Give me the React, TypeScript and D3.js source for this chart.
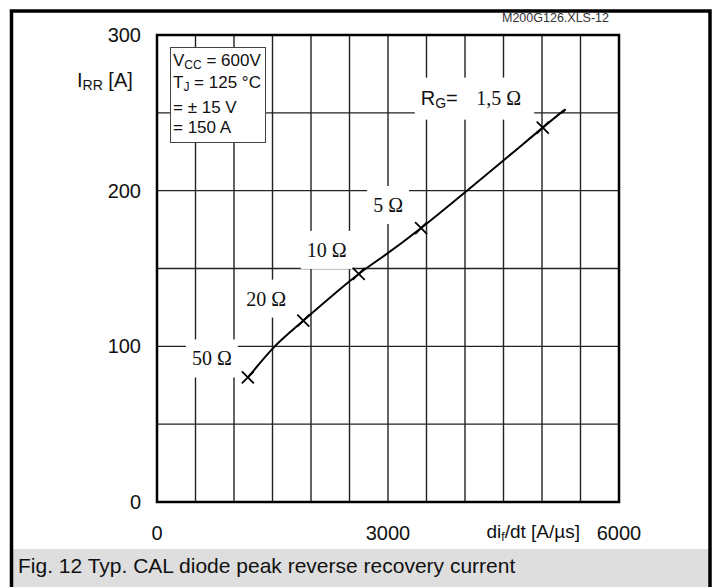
import React, { useEffect, useRef } from "react";
import * as d3 from "d3";

// ---- data ----
const rgLabels = ["50 Ω", "20 Ω", "10 Ω", "5 Ω", "1,5 Ω"];
const markerDidt = [1180, 1900, 2620, 3430, 5010];
const markerIrr = [80, 116.5, 146.5, 176, 240.5];
const curveDidt = [1180, 1520, 1900, 2620, 3430, 5010, 5260];
const curveIrr = [80, 99.5, 116.5, 146.5, 176, 240.5, 250];
const xTicks = [0, 3000, 6000];
const yTicks = [0, 100, 200, 300];
const legendLines = [
  ["V", "CC", " = 600V"],
  ["T", "J", " = 125 °C"],
  ["", "", "= ± 15 V"],
  ["", "", "= 150 A"],
];

// ---- layout (not data) ----
const W = 715, H = 587;
const PL = 157, PR = 619, PT = 35, PB = 502;
const labelOffsets = [
  [-36, -12],
  [-37, -15],
  [-32, -17],
  [-33, -16],
  [-44, -23],
];
const SANS = "'Liberation Sans', Arial, sans-serif";
const SERIF = "'Liberation Serif', 'Times New Roman', serif";

export default function App() {
  const ref = useRef<SVGSVGElement>(null);
  useEffect(() => {
    const svg = d3.select(ref.current);
    svg.selectAll("*").remove();
    const x = d3.scaleLinear().domain([0, 6000]).range([PL, PR]);
    const y = d3.scaleLinear().domain([0, 300]).range([PB, PT]);

    svg.append("rect").attr("width", W).attr("height", H).attr("fill", "#fff");
    // caption band
    svg.append("rect").attr("x", 13).attr("y", 549).attr("width", 696).attr("height", 60).attr("fill", "#dedede");
    // outer frame
    svg.append("rect").attr("x", 11.5).attr("y", 11).attr("width", 698.5).attr("height", 620)
      .attr("fill", "none").attr("stroke", "#000").attr("stroke-width", 3.5);

    svg.append("text").attr("x", 18).attr("y", 573).attr("font-family", SANS).attr("font-size", 21)
      .attr("fill", "#111").text("Fig. 12 Typ. CAL diode peak reverse recovery current");

    svg.append("text").attr("x", 502).attr("y", 22).attr("font-family", SANS).attr("font-size", 12.5)
      .attr("fill", "#333").text("M200G126.XLS-12");

    // grid
    const g = svg.append("g");
    d3.range(500, 6000, 500).forEach((v) => {
      g.append("line").attr("x1", x(v)).attr("x2", x(v)).attr("y1", PT).attr("y2", PB)
        .attr("stroke", "#222").attr("stroke-width", 1.4);
    });
    d3.range(50, 300, 50).forEach((v) => {
      g.append("line").attr("x1", PL).attr("x2", PR).attr("y1", y(v)).attr("y2", y(v))
        .attr("stroke", "#222").attr("stroke-width", 1.4);
    });
    svg.append("rect").attr("x", PL).attr("y", PT).attr("width", PR - PL).attr("height", PB - PT)
      .attr("fill", "none").attr("stroke", "#000").attr("stroke-width", 2.5);

    // ticks
    yTicks.forEach((v) => {
      svg.append("text").attr("x", 141).attr("y", y(v)).attr("dy", "0.35em").attr("text-anchor", "end")
        .attr("font-family", SANS).attr("font-size", 20).attr("fill", "#111").text(String(v));
    });
    xTicks.forEach((v) => {
      svg.append("text").attr("x", x(v)).attr("y", 540).attr("text-anchor", "middle")
        .attr("font-family", SANS).attr("font-size", 20).attr("fill", "#111").text(String(v));
    });
    // axis labels
    const yl = svg.append("text").attr("x", 77).attr("y", 87).attr("font-family", SANS).attr("font-size", 20).attr("fill", "#111");
    yl.append("tspan").text("I");
    yl.append("tspan").attr("font-size", 14).attr("dy", 3).text("RR");
    yl.append("tspan").attr("dy", -3).text(" [A]");
    const xl = svg.append("text").attr("x", 580).attr("y", 538).attr("text-anchor", "end")
      .attr("font-family", SANS).attr("font-size", 19).attr("fill", "#111");
    xl.append("tspan").text("di");
    xl.append("tspan").attr("font-size", 12).attr("dy", 3).text("f");
    xl.append("tspan").attr("dy", -3).text("/dt [A/µs]");

    // legend box
    svg.append("rect").attr("x", 170.5).attr("y", 47.5).attr("width", 95).attr("height", 95)
      .attr("fill", "#fff").attr("stroke", "#444").attr("stroke-width", 1);
    const baselines = [66, 88, 113, 133];
    legendLines.forEach((ln, i) => {
      const t = svg.append("text").attr("x", 173).attr("y", baselines[i]).attr("font-family", SANS)
        .attr("font-size", 17).attr("fill", "#111");
      if (ln[0]) t.append("tspan").text(ln[0]);
      if (ln[1]) t.append("tspan").attr("font-size", 12).attr("dy", 3).text(ln[1]);
      t.append("tspan").attr("dy", ln[1] ? -3 : 0).text(ln[2]);
    });

    // labels with white knockout boxes
    const lab = svg.append("g");
    rgLabels.forEach((lbl, i) => {
      const px = x(markerDidt[i]);
      const py = y(markerIrr[i]);
      const [dx, dy] = labelOffsets[i];
      const grp = lab.append("g");
      const box = grp.append("rect").attr("fill", "#fff");
      const bx = px + dx, by = py + dy;
      if (i === rgLabels.length - 1) {
        const rx = bx - 78;
        const rg = grp.append("text").attr("x", rx).attr("y", by).attr("font-family", SANS)
          .attr("font-size", 20).attr("fill", "#111");
        rg.append("tspan").text("R");
        rg.append("tspan").attr("font-size", 14).attr("dy", 3).text("G");
        rg.append("tspan").attr("dy", -3).text("=");
        const t = grp.append("text").attr("x", bx).attr("y", by).attr("text-anchor", "middle")
          .attr("font-family", SERIF).attr("font-size", 20).attr("fill", "#111").text(lbl);
        const bb = (t.node() as SVGTextElement).getBBox();
        const x0 = rx - 6;
        box.attr("x", x0).attr("y", by - 27).attr("width", bb.x + bb.width + 13 - x0).attr("height", 42);
      } else {
        const t = grp.append("text").attr("x", bx).attr("y", by).attr("text-anchor", "middle")
          .attr("font-family", SERIF).attr("font-size", 20).attr("fill", "#111").text(lbl);
        const bb = (t.node() as SVGTextElement).getBBox();
        box.attr("x", bb.x - 6).attr("y", by - 26).attr("width", bb.width + 12).attr("height", 38);
      }
    });

    // curve
    const line = d3.line<number>().x((_, i) => x(curveDidt[i])).y((_, i) => y(curveIrr[i])).curve(d3.curveNatural);
    svg.append("path").attr("d", line(curveDidt)).attr("fill", "none").attr("stroke", "#000").attr("stroke-width", 2);
    markerDidt.forEach((v, i) => {
      const px = x(v), py = y(markerIrr[i]), s = 6;
      svg.append("path").attr("d", `M${px - s},${py - s}L${px + s},${py + s}M${px - s},${py + s}L${px + s},${py - s}`)
        .attr("stroke", "#000").attr("stroke-width", 1.8).attr("fill", "none");
    });
  }, []);
  return (
    <svg ref={ref} width={W} height={H} style={{ position: "absolute", left: 0, top: 0, display: "block" }} />
  );
}
